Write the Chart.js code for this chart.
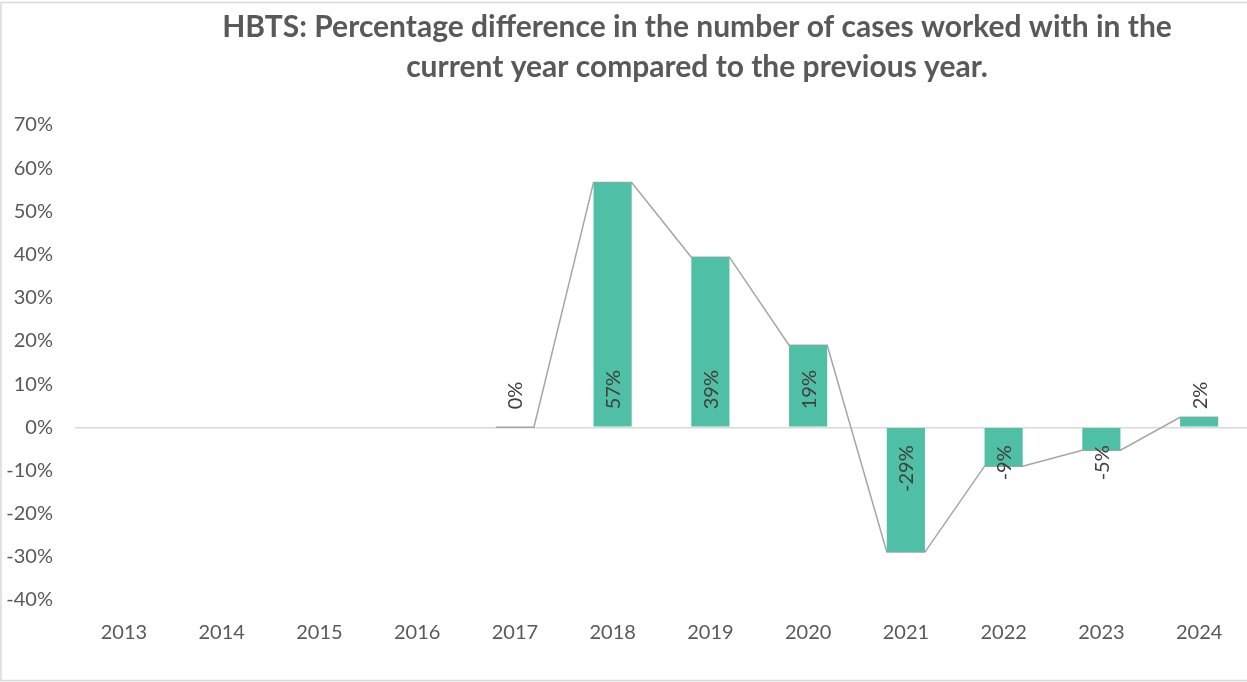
<!DOCTYPE html>
<html><head><meta charset="utf-8">
<script src="https://cdn.jsdelivr.net/npm/chart.js@4"></script>
<style>
html,body{margin:0;padding:0;overflow:hidden;background:#fff}
#wrap{width:1394px;height:682px;position:relative}
</style>
</head><body>
<div id="wrap"><canvas id="c" width="1394" height="682"></canvas></div>
<script>
// ---- data ----
const years = ['2013','2014','2015','2016','2017','2018','2019','2020','2021','2022','2023','2024'];
const pctChange = [null, null, null, null, 0, 56.7, 39.4, 19.0, -28.9, -9.0, -5.3, 2.3];
const titleLines = ['HBTS: Percentage difference in the number of cases worked with in the',
                    'current year compared to the previous year.'];
const yMin = -40, yMax = 70, yStep = 10;

// ---- style ----
const FONT = 'Lato';
const BAR_FRAC = 0.39;
const HALF = BAR_FRAC / 2;

// series line: connects the top corners of consecutive bars
const seriesLine = [];
pctChange.forEach((v, i) => {
  if (v === null) return;
  seriesLine.push({x: i - HALF, y: v});
  seriesLine.push({x: i + HALF, y: v});
});

const frame = {
  id: 'frame',
  beforeDraw(chart) {
    const c = chart.ctx;
    c.save();
    c.fillStyle = '#fff';
    c.fillRect(0, 0, chart.width, chart.height);
    c.strokeStyle = '#D9D9D9';
    c.lineWidth = 1.5;
    c.beginPath();
    c.moveTo(1247 + 5, 2.5);
    c.lineTo(1, 2.5);
    c.lineTo(1, 680.5);
    c.lineTo(1247 + 5, 680.5);
    c.stroke();
    c.restore();
  }
};

const labels = {
  id: 'barLabels',
  afterDatasetsDraw(chart) {
    const meta = chart.getDatasetMeta(0);
    const ys = chart.scales.y;
    const base = ys.getPixelForValue(0);
    const c = chart.ctx;
    c.save();
    c.font = '20px ' + FONT;
    c.fillStyle = '#404040';
    c.textBaseline = 'middle';
    meta.data.forEach((el, i) => {
      const v = pctChange[i];
      if (v === null) return;
      const txt = Math.round(v) + '%';
      c.save();
      c.translate(el.x, v >= 0 ? base - 18 : base + 18);
      c.rotate(-Math.PI / 2);
      c.textAlign = v >= 0 ? 'left' : 'right';
      c.fillText(txt, 0, 1);
      c.restore();
    });
    c.restore();
  }
};

new Chart(document.getElementById('c'), {
  type: 'bar',
  data: {
    labels: years,
    datasets: [
      {
        type: 'bar',
        data: pctChange,
        backgroundColor: '#4FBFA5',
        borderWidth: 0,
        grouped: false,
        barPercentage: BAR_FRAC,
        categoryPercentage: 1,
        xAxisID: 'x',
        yAxisID: 'y',
        order: 1
      },
      {
        type: 'line',
        data: seriesLine,
        borderColor: '#A5A5A5',
        borderWidth: 1.5,
        pointRadius: 0,
        tension: 0,
        fill: false,
        xAxisID: 'x2',
        yAxisID: 'y',
        order: 2
      }
    ]
  },
  options: {
    responsive: false,
    animation: false,
    layout: {padding: 0},
    plugins: {
      legend: {display: false},
      tooltip: {enabled: false},
      title: {
        display: true,
        text: titleLines,
        color: '#595959',
        font: {family: FONT, size: 30, weight: 'bold', lineHeight: '40px'},
        padding: {top: 7, bottom: 38}
      }
    },
    scales: {
      x: {
        type: 'category',
        offset: true,
        grid: {display: false, drawTicks: false},
        border: {display: false},
        ticks: {color: '#595959', font: {family: FONT, size: 20}, padding: 21, maxRotation: 0},
        afterFit(s) { s.height = 82; }
      },
      x2: {
        type: 'linear',
        display: false,
        offset: false,
        grace: 0,
        bounds: 'ticks',
        min: -0.5,
        max: years.length - 0.5
      },
      y: {
        min: yMin,
        max: yMax,
        ticks: {
          stepSize: yStep,
          color: '#595959',
          font: {family: FONT, size: 20},
          padding: 22,
          callback: v => v + '%'
        },
        grid: {
          drawTicks: false,
          color: ctx => ctx.tick && ctx.tick.value === 0 ? '#D9D9D9' : 'rgba(0,0,0,0)',
          lineWidth: 1.5
        },
        border: {display: false},
        afterFit(s) { s.width = 75; }
      },
      yR: {
        position: 'right',
        min: yMin,
        max: yMax,
        grid: {display: false, drawTicks: false},
        border: {display: false},
        ticks: {display: false},
        afterFit(s) { s.width = 146; }
      }
    }
  },
  plugins: [frame, labels]
});
</script>
</body></html>
